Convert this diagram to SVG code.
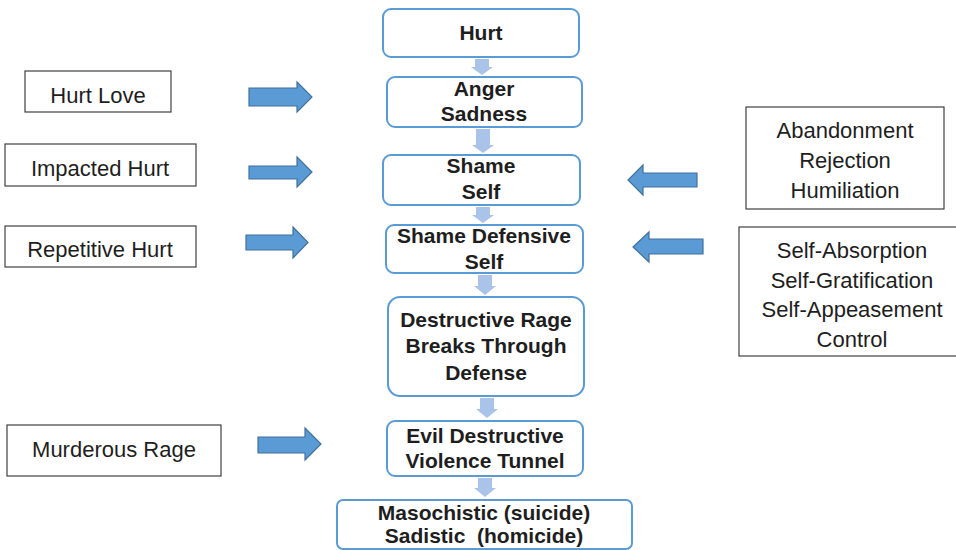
<svg xmlns="http://www.w3.org/2000/svg" width="956" height="550" viewBox="0 0 956 550">
<style>
.n{fill:#fff;stroke:#5b9bd5;stroke-width:2}
.s{fill:#fff;stroke:#404040;stroke-width:1.2}
.tb{font-family:"Liberation Sans",Arial,sans-serif;font-weight:bold;font-size:21px;fill:#1e1e1e;text-anchor:middle}
.tr{font-family:"Liberation Sans",Arial,sans-serif;font-size:22px;fill:#1e1e1e;text-anchor:middle}
.da{fill:#a9c4e8}
.ba{fill:#5b9bd5;stroke:#41719c;stroke-width:1.2}
</style>
<rect width="956" height="550" fill="#fff"/>
<g id="connectors">
<path class="da" d="M475,59h14v8h4l-11,8l-11,-8h4z"/>
<path class="da" d="M476,129h14v16h4l-11,8l-11,-8h4z"/>
<path class="da" d="M476,207h14v8h4l-11,8l-11,-8h4z"/>
<path class="da" d="M478,275h14v11h4l-11,9l-11,-9h4z"/>
<path class="da" d="M480,398h14v11h4l-11,9l-11,-9h4z"/>
<path class="da" d="M478,478h14v10h4l-11,9l-11,-9h4z"/>
<path class="ba" d="M249,88h48v-6l15,15l-15,15v-6h-48z"/>
<path class="ba" d="M249,166h48v-9l15,15l-15,15v-8h-48z"/>
<path class="ba" d="M246,235h47v-8l15,15.5l-15,15.5v-8h-47z"/>
<path class="ba" d="M258,437h47v-9l16,16l-16,16v-7h-47z"/>
<path class="ba" d="M697,173h-54v-8l-15,15l15,15v-8h54z"/>
<path class="ba" d="M703,239h-54v-7l-16,15l16,15v-8h54z"/>
</g>
<g id="hurt"><rect class="n" x="383" y="9" width="196" height="48" rx="8"/><text class="tb" x="481" y="40">Hurt</text></g>
<g id="anger"><rect class="n" x="387" y="77" width="195" height="50" rx="8"/><text class="tb" x="484" y="96">Anger</text><text class="tb" x="484" y="121">Sadness</text></g>
<g id="shame"><rect class="n" x="383" y="155" width="197" height="50" rx="8"/><text class="tb" x="481" y="173">Shame</text><text class="tb" x="481" y="199">Self</text></g>
<g id="defensive"><rect class="n" x="386" y="225" width="197" height="48" rx="8"/><text class="tb" x="484" y="243">Shame Defensive</text><text class="tb" x="484" y="269">Self</text></g>
<g id="rage"><rect class="n" x="388" y="297" width="196" height="99" rx="12"/><text class="tb" x="486" y="327">Destructive Rage</text><text class="tb" x="486" y="353">Breaks Through</text><text class="tb" x="486" y="380">Defense</text></g>
<g id="evil"><rect class="n" x="387" y="421" width="196" height="55" rx="8"/><text class="tb" x="485" y="443">Evil Destructive</text><text class="tb" x="485" y="468">Violence Tunnel</text></g>
<g id="maso"><rect class="n" x="337" y="500" width="295" height="49" rx="6"/><text class="tb" x="484" y="520">Masochistic (suicide)</text><text class="tb" x="484" y="543" xml:space="preserve">Sadistic  (homicide)</text></g>
<g id="hurtlove"><rect class="s" x="25" y="71" width="146" height="41"/><text class="tr" x="98" y="103">Hurt Love</text></g>
<g id="impacted"><rect class="s" x="5" y="144" width="191" height="42"/><text class="tr" x="100" y="176">Impacted Hurt</text></g>
<g id="repetitive"><rect class="s" x="5" y="226" width="191" height="41"/><text class="tr" x="100" y="257">Repetitive Hurt</text></g>
<g id="murderous"><rect class="s" x="7" y="425" width="214" height="51"/><text class="tr" x="114" y="457">Murderous Rage</text></g>
<g id="abandon"><rect class="s" x="746" y="107" width="198" height="102"/><text class="tr" x="845" y="138">Abandonment</text><text class="tr" x="845" y="168">Rejection</text><text class="tr" x="845" y="198">Humiliation</text></g>
<g id="selfbox"><rect class="s" x="739" y="227" width="222" height="129"/><text class="tr" x="852" y="258">Self-Absorption</text><text class="tr" x="852" y="288">Self-Gratification</text><text class="tr" x="852" y="317">Self-Appeasement</text><text class="tr" x="852" y="347">Control</text></g>
</svg>
